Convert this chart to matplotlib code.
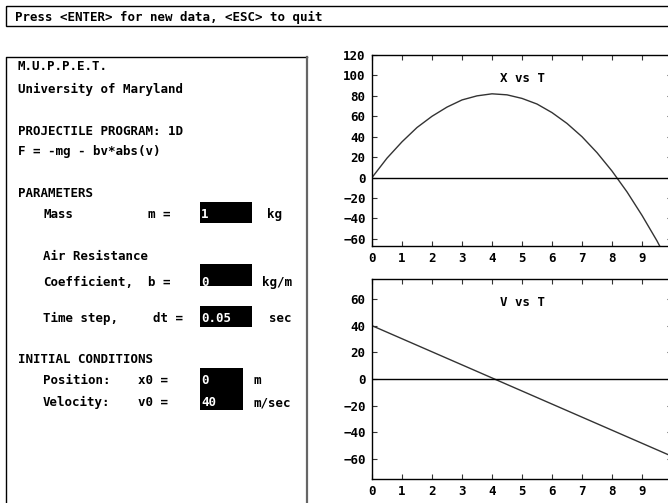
import matplotlib
matplotlib.use('Agg')
import matplotlib.pyplot as plt
from matplotlib.patches import Rectangle

# trajectory (dt = 0.05, b = 0)
t_x = [0, 0.5, 1, 1.5, 2, 2.5, 3, 3.5, 4, 4.5, 5, 5.5, 6, 6.5, 7, 7.5, 8, 8.5, 9, 9.5, 10]
x_vals = [0, 19, 35, 49, 60, 69, 76, 80, 82, 81, 77.5, 72, 63.6, 53, 40, 24.4, 6.4, -14, -37, -62, -90]
t_v = [0, 1, 2, 3, 4, 5, 6, 7, 8, 9, 10]
v_vals = [40, 30.2, 20.4, 10.6, 0.8, -9, -18.8, -28.6, -38.4, -48.2, -58]

x_ticks = [0, 1, 2, 3, 4, 5, 6, 7, 8, 9]
x_yticks = [-60, -40, -20, 0, 20, 40, 60, 80, 100, 120]
v_yticks = [-60, -40, -20, 0, 20, 40, 60]

# input fields
param_labels = ['Mass', 'Coefficient,', 'Time step,']
param_symbols = ['m =', 'b =', 'dt =']
param_values = ['1', '0', '0.05']
param_units = ['kg', 'kg/m', 'sec']
init_labels = ['Position:', 'Velocity:']
init_symbols = ['x0 =', 'v0 =']
init_values = ['0', '40']
init_units = ['m', 'm/sec']

plt.rcParams['font.family'] = 'DejaVu Sans Mono'
plt.rcParams['font.weight'] = 'bold'
plt.rcParams['font.size'] = 9

W, H = 668, 503
fig = plt.figure(figsize=(W / 100, H / 100), dpi=100)

# screen layer in pixel coordinates
bg = fig.add_axes([0, 0, 1, 1], zorder=0)
bg.set_xlim(0, W)
bg.set_ylim(H, 0)
bg.axis('off')

VA = 'center_baseline'

bg.add_patch(Rectangle((5.5, 5.5), 700, 20.5, fill=False, ec='black', lw=1))
bg.text(15, 16, 'Press <ENTER> for new data, <ESC> to quit', va=VA)

bg.plot([5.5, 5.5, 307], [520, 57, 57], color='black', lw=1)
bg.plot([307, 307], [57, 520], color='#666666', lw=1.6)

bg.text(18, 65, 'M.U.P.P.E.T.', va=VA)
bg.text(18, 88, 'University of Maryland', va=VA)
bg.text(18, 130, 'PROJECTILE PROGRAM: 1D', va=VA)
bg.text(18, 150, 'F = -mg - bv*abs(v)', va=VA)
bg.text(18, 192, 'PARAMETERS', va=VA)
bg.text(43, 255, 'Air Resistance', va=VA)
bg.text(18, 358, 'INITIAL CONDITIONS', va=VA)

param_rows = [213, 281, 317]
param_boxes = [(202, 223), (264, 286), (306, 327)]
sym_x = [148, 148, 153]
unit_x = [267, 262, 269]
for i in range(3):
    y = param_rows[i]
    bg.text(43, y, param_labels[i], va=VA)
    bg.text(sym_x[i], y, param_symbols[i], va=VA)
    y0, y1 = param_boxes[i]
    bg.add_patch(Rectangle((200, y0), 52, y1 - y0, color='black', lw=0))
    bg.text(201, y, param_values[i], va=VA, color='white')
    bg.text(unit_x[i], y, param_units[i], va=VA)

bg.add_patch(Rectangle((200, 368), 43, 42, color='black', lw=0))
init_rows = [379, 401]
for i in range(2):
    y = init_rows[i]
    bg.text(43, y, init_labels[i], va=VA)
    bg.text(138, y, init_symbols[i], va=VA)
    bg.text(201, y, init_values[i], va=VA, color='white')
    bg.text(253, y, init_units[i], va=VA)


def style(ax, yticks):
    ax.set_xlim(0, 10)
    ax.set_xticks(x_ticks)
    ax.set_yticks(yticks)
    ax.tick_params(direction='in', length=3.5, width=0.8, color='#333333',
                   top=True, right=True, labelsize=9)
    ax.tick_params(axis='y', pad=4.5)
    ax.tick_params(axis='x', pad=4)
    for sp in ax.spines.values():
        sp.set_linewidth(1)
    ax.axhline(0, color='black', lw=1)


ax1 = fig.add_axes([372 / W, 1 - 246 / H, 300 / W, 191 / H], zorder=1)
ax1.plot(t_x, x_vals, color='#333333', lw=1)
ax1.set_ylim(-67, 120)
style(ax1, x_yticks)
ax1.text(0.5, 0.885, 'X vs T', transform=ax1.transAxes, ha='center', va=VA)

ax2 = fig.add_axes([372 / W, 1 - 479 / H, 300 / W, 200 / H], zorder=1)
ax2.plot(t_v, v_vals, color='#333333', lw=1)
ax2.set_ylim(-75, 75)
style(ax2, v_yticks)
ax2.text(0.5, 0.89, 'V vs T', transform=ax2.transAxes, ha='center', va=VA)

fig.savefig('out.png', dpi=100)
